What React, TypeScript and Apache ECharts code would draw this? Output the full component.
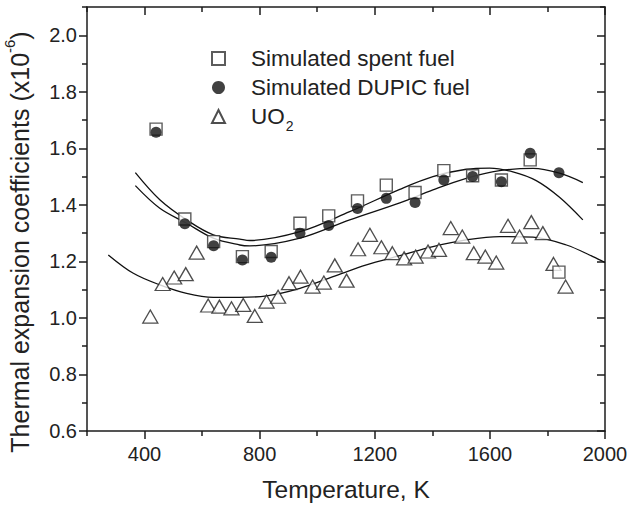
import React, { useEffect, useRef } from "react";
import * as echarts from "echarts";

// ---- data ----
const sampleTemps = [440, 540, 640, 740, 840, 940, 1040, 1140, 1240, 1340, 1440, 1540, 1640, 1740, 1840];
const spentFuelValues = [1.668, 1.35, 1.27, 1.217, 1.235, 1.335, 1.361, 1.414, 1.47, 1.444, 1.521, 1.503, 1.488, 1.559, 1.162];
const dupicFuelValues = [1.657, 1.333, 1.255, 1.205, 1.215, 1.3, 1.327, 1.387, 1.423, 1.408, 1.488, 1.5, 1.482, 1.583, 1.514];

const uo2Temps = [420, 463, 503, 543, 581, 621, 660, 702, 743, 783, 824, 864, 902, 942, 984, 1023, 1061, 1102, 1142, 1183, 1223, 1261, 1302, 1342, 1385, 1423, 1464, 1504, 1544, 1584, 1622, 1663, 1703, 1744, 1784, 1821, 1863];
const uo2Values = [1.005, 1.12, 1.143, 1.155, 1.231, 1.044, 1.04, 1.034, 1.046, 1.007, 1.058, 1.075, 1.123, 1.146, 1.111, 1.125, 1.186, 1.132, 1.243, 1.294, 1.25, 1.229, 1.211, 1.217, 1.235, 1.241, 1.318, 1.288, 1.229, 1.217, 1.196, 1.326, 1.288, 1.339, 1.3, 1.191, 1.111];

const fitSpentTemps = [368, 453, 546, 639, 731, 766, 940, 1113, 1287, 1402, 1518, 1599, 1680, 1761, 1842, 1923];
const fitSpentValues = [1.514, 1.418, 1.347, 1.294, 1.279, 1.274, 1.305, 1.376, 1.455, 1.5, 1.526, 1.53, 1.517, 1.486, 1.427, 1.347];

const fitDupicTemps = [368, 453, 546, 639, 731, 766, 940, 1113, 1287, 1402, 1518, 1634, 1750, 1842, 1923];
const fitDupicValues = [1.468, 1.388, 1.335, 1.282, 1.258, 1.255, 1.282, 1.347, 1.407, 1.453, 1.494, 1.521, 1.529, 1.512, 1.479];

const fitUo2Temps = [274, 361, 453, 546, 639, 731, 824, 940, 1055, 1171, 1287, 1402, 1518, 1634, 1750, 1866, 1958, 2000];
const fitUo2Values = [1.223, 1.158, 1.117, 1.087, 1.073, 1.073, 1.078, 1.105, 1.146, 1.188, 1.22, 1.252, 1.276, 1.288, 1.286, 1.258, 1.217, 1.196];

const xMajorTicks = [400, 800, 1200, 1600, 2000];
const xMinorTicks = [200, 600, 1000, 1400, 1800];
const yMajorTicks = [0.6, 0.8, 1.0, 1.2, 1.4, 1.6, 1.8, 2.0];
const yMinorTicks = [0.7, 0.9, 1.1, 1.3, 1.5, 1.7, 1.9, 2.1];

const seriesNames = ["Simulated spent fuel", "Simulated DUPIC fuel", "UO2"];

const FONT = "'Liberation Sans', Arial, Helvetica, sans-serif";
const AX = "#1c1c1c";
const TXT = "#222";

const zip = (xs: number[], ys: number[]) => xs.map((x, i) => [x, ys[i]]);

function makeX(position: "top" | "bottom", major: boolean, inside: boolean, extra: any = {}) {
  return {
    type: "value",
    position,
    min: 200,
    max: 2000,
    splitLine: { show: false },
    axisLine: { show: major, onZero: false, lineStyle: { color: AX, width: 1.5 } },
    axisTick: {
      show: true,
      inside,
      length: major ? 8 : 5,
      customValues: major ? xMajorTicks : xMinorTicks,
      lineStyle: { color: AX, width: 1.5 },
    },
    axisLabel: { show: false },
    ...extra,
  };
}

function makeY(position: "left" | "right", major: boolean, inside: boolean, extra: any = {}) {
  return {
    type: "value",
    position,
    min: 0.6,
    max: 2.1,
    splitLine: { show: false },
    axisLine: { show: major, onZero: false, lineStyle: { color: AX, width: 1.5 } },
    axisTick: {
      show: true,
      inside,
      length: major ? 8 : 5,
      customValues: major ? yMajorTicks : yMinorTicks,
      lineStyle: { color: AX, width: 1.5 },
    },
    axisLabel: { show: false },
    ...extra,
  };
}

export default function App() {
  const ref = useRef<HTMLDivElement>(null);

  useEffect(() => {
    if (!ref.current) return;
    const chart = echarts.init(ref.current, null, { renderer: "svg" });
    const fitLine = (data: number[][]) => ({
      type: "line",
      data,
      xAxisIndex: 0,
      yAxisIndex: 0,
      showSymbol: false,
      smooth: 0.35,
      silent: true,
      lineStyle: { color: "#111", width: 1.3 },
      z: 2,
    });
    chart.setOption({
      animation: false,
      backgroundColor: "#fff",
      textStyle: { fontFamily: FONT },
      grid: { left: 87, right: 25, top: 7, bottom: 76, containLabel: false, outerBoundsMode: "none" },
      legend: {
        orient: "vertical",
        left: 206,
        top: 42,
        itemWidth: 13,
        itemHeight: 13,
        itemGap: 6,
        selectedMode: false,
        data: [
          { name: seriesNames[0], icon: "rect" },
          { name: seriesNames[1], icon: "circle" },
          { name: seriesNames[2], icon: "triangle" },
        ],
        formatter: (name: string) => (name === "UO2" ? "UO{sub|2}" : name),
        textStyle: {
          fontSize: 22.5,
          color: TXT,
          fontFamily: FONT,
          padding: [0, 0, 0, 21],
          rich: {
            sub: { fontSize: 14, color: TXT, fontFamily: FONT, padding: [18, 0, 0, 1] },
          },
        },
      },
      xAxis: [
        makeX("bottom", true, false, {
          axisLabel: {
            show: true,
            customValues: xMajorTicks,
            margin: 13,
            fontSize: 20,
            color: TXT,
            fontFamily: FONT,
            formatter: (v: number) => String(v),
          },
          name: "Temperature, K",
          nameLocation: "middle",
          nameGap: 46,
          nameTextStyle: { fontSize: 24.5, color: TXT, fontFamily: FONT },
        }),
        makeX("bottom", false, false),
        makeX("top", true, true),
        makeX("top", false, true),
      ],
      yAxis: [
        makeY("left", true, false, {
          axisLabel: {
            show: true,
            customValues: yMajorTicks,
            margin: 10,
            fontSize: 20,
            color: TXT,
            fontFamily: FONT,
            formatter: (v: number) => v.toFixed(1),
          },
        }),
        makeY("left", false, false),
        makeY("right", true, true),
        makeY("right", false, true),
      ],
      graphic: [
        {
          type: "text",
          x: 20,
          y: 242,
          rotation: Math.PI / 2,
          style: {
            text: "Thermal expansion coefficients (x10{sup|-6})",
            fontSize: 25,
            fontFamily: FONT,
            fill: TXT,
            align: "center",
            verticalAlign: "middle",
            rich: {
              sup: { fontSize: 15, fontFamily: FONT, fill: TXT, padding: [0, 0, 22, 0] },
            },
          },
        },
      ],
      series: [
        fitLine(zip(fitSpentTemps, fitSpentValues)),
        fitLine(zip(fitDupicTemps, fitDupicValues)),
        fitLine(zip(fitUo2Temps, fitUo2Values)),
        {
          name: seriesNames[0],
          type: "scatter",
          data: zip(sampleTemps, spentFuelValues),
          symbol: "rect",
          symbolSize: 12,
          itemStyle: { color: "#fff", borderColor: "#333", borderWidth: 1.4 },
          z: 4,
        },
        {
          name: seriesNames[1],
          type: "scatter",
          data: zip(sampleTemps, dupicFuelValues),
          symbol: "circle",
          symbolSize: 11,
          itemStyle: { color: "#111", borderColor: "#111", borderWidth: 0 },
          z: 5,
        },
        {
          name: seriesNames[2],
          type: "scatter",
          data: zip(uo2Temps, uo2Values),
          symbol: "triangle",
          symbolSize: [15, 13],
          itemStyle: { color: "#fff", borderColor: "#222", borderWidth: 1.3 },
          z: 3,
        },
      ],
    });
    return () => chart.dispose();
  }, []);

  return (
    <div
      ref={ref}
      style={{ position: "fixed", left: 0, top: 0, width: 630, height: 507, background: "#fff" }}
    />
  );
}
